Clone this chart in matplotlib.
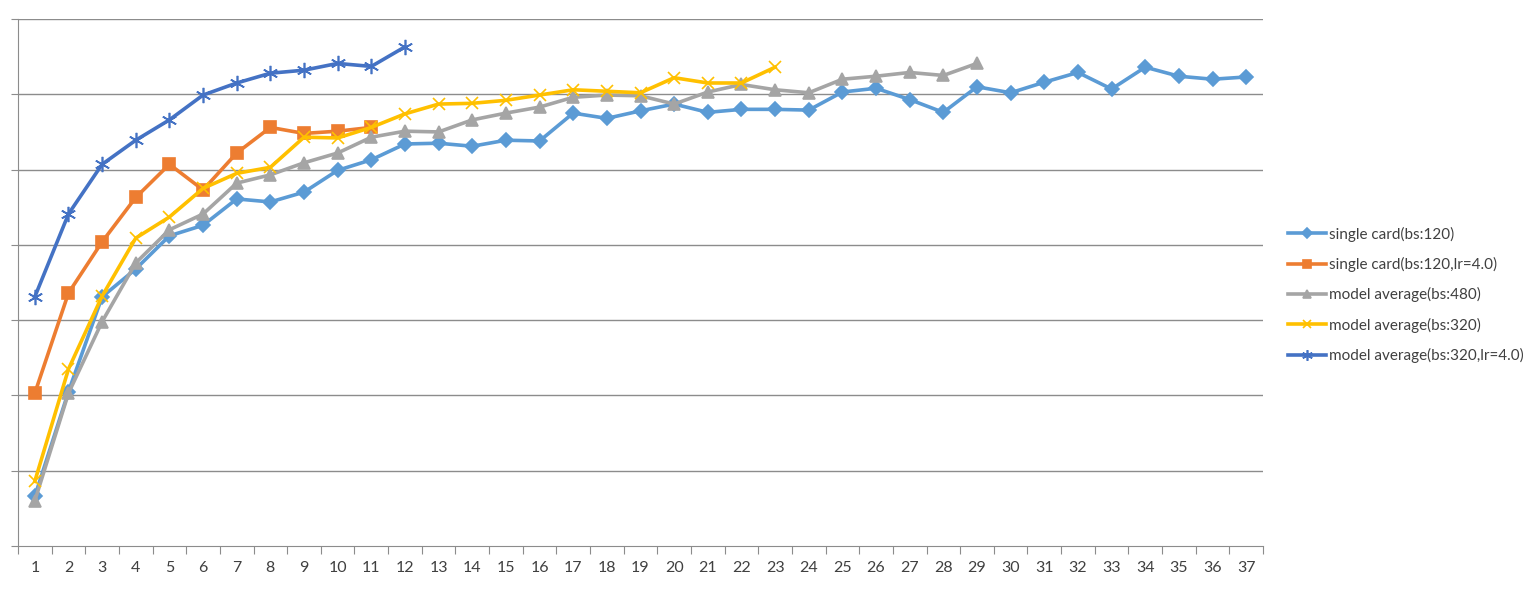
import numpy as np
import matplotlib.pyplot as plt

plt.rcParams['font.family'] = ['Lato', 'DejaVu Sans']

# valores (escala de rejilla 0..7, sin etiquetas en el eje y)
epochs = np.arange(1, 38)

single_card = [0.66, 2.05, 3.31, 3.68, 4.12, 4.26, 4.61, 4.57, 4.70, 4.99,
               5.13, 5.34, 5.35, 5.31, 5.39, 5.38, 5.75, 5.68, 5.78, 5.87,
               5.76, 5.80, 5.80, 5.79, 6.03, 6.08, 5.93, 5.76, 6.10, 6.02,
               6.16, 6.29, 6.07, 6.36, 6.24, 6.20, 6.23]
single_card_lr = [2.03, 3.36, 4.04, 4.63, 5.07, 4.73, 5.22, 5.56, 5.48, 5.51,
                  5.56]
avg_480 = [0.60, 2.03, 2.98, 3.76, 4.20, 4.41, 4.82, 4.93, 5.09, 5.22,
           5.43, 5.51, 5.50, 5.66, 5.75, 5.83, 5.96, 5.99, 5.98, 5.87,
           6.03, 6.13, 6.06, 6.02, 6.20, 6.24, 6.29, 6.25, 6.41]
avg_320 = [0.86, 2.35, 3.32, 4.09, 4.37, 4.75, 4.95, 5.03, 5.43, 5.42,
           5.56, 5.74, 5.87, 5.88, 5.92, 5.99, 6.06, 6.04, 6.02, 6.22,
           6.15, 6.15, 6.36]
avg_320_lr = [3.31, 4.41, 5.07, 5.39, 5.66, 5.99, 6.15, 6.28, 6.32, 6.41,
              6.37, 6.63]

series = [
    ("single card(bs:120)", single_card, "#5B9BD5", "D", 7),
    ("single card(bs:120,lr=4.0)", single_card_lr, "#ED7D31", "s", 8),
    ("model average(bs:480)", avg_480, "#A5A5A5", "^", 8),
    ("model average(bs:320)", avg_320, "#FFC000", "x", 9),
    ("model average(bs:320,lr=4.0)", avg_320_lr, "#4472C4", (6, 2, 0), 11),
]

fig = plt.figure(figsize=(15.39, 5.91), dpi=100)
ax = fig.add_axes([18 / 1539, 45 / 591, 1245 / 1539, 527 / 591])

grid_col = "#8C8C8C"
for y in range(1, 8):
    ax.axhline(y, color=grid_col, lw=1, zorder=0)

for name, vals, col, mk, ms in series:
    x = epochs[:len(vals)]
    ax.plot(x, vals, color=col, lw=2.6, marker=mk, markersize=ms,
            markeredgecolor=col, markerfacecolor=col, markeredgewidth=1.2,
            label=name, solid_joinstyle="round")

ax.set_xlim(0.5, 37.5)
ax.set_ylim(0, 7)

for s in ["top", "right"]:
    ax.spines[s].set_visible(False)
ax.spines["left"].set_color(grid_col)
ax.spines["bottom"].set_color(grid_col)

# marcas en los limites de categoria, etiquetas en el centro
ax.set_xticks(np.arange(0.5, 38, 1))
ax.set_xticklabels([])
ax.set_xticks(epochs, minor=True)
ax.set_xticklabels([str(e) for e in epochs], minor=True)
ax.tick_params(axis="x", which="major", length=6, color=grid_col, direction="out")
ax.tick_params(axis="x", which="minor", length=0, pad=11, labelsize=11.5,
               labelcolor="#404040")
ax.set_yticks(range(0, 8))
ax.set_yticklabels([])
ax.tick_params(axis="y", length=5, color=grid_col, direction="out")

fig.legend(loc="upper left", bbox_to_anchor=(1274 / 1539, 1 - 213 / 591),
           frameon=False, fontsize=11, handlelength=2.5, handletextpad=0.2,
           labelspacing=1.0, labelcolor="#404040", markerscale=0.7)

fig.savefig("out.png", dpi=100)
